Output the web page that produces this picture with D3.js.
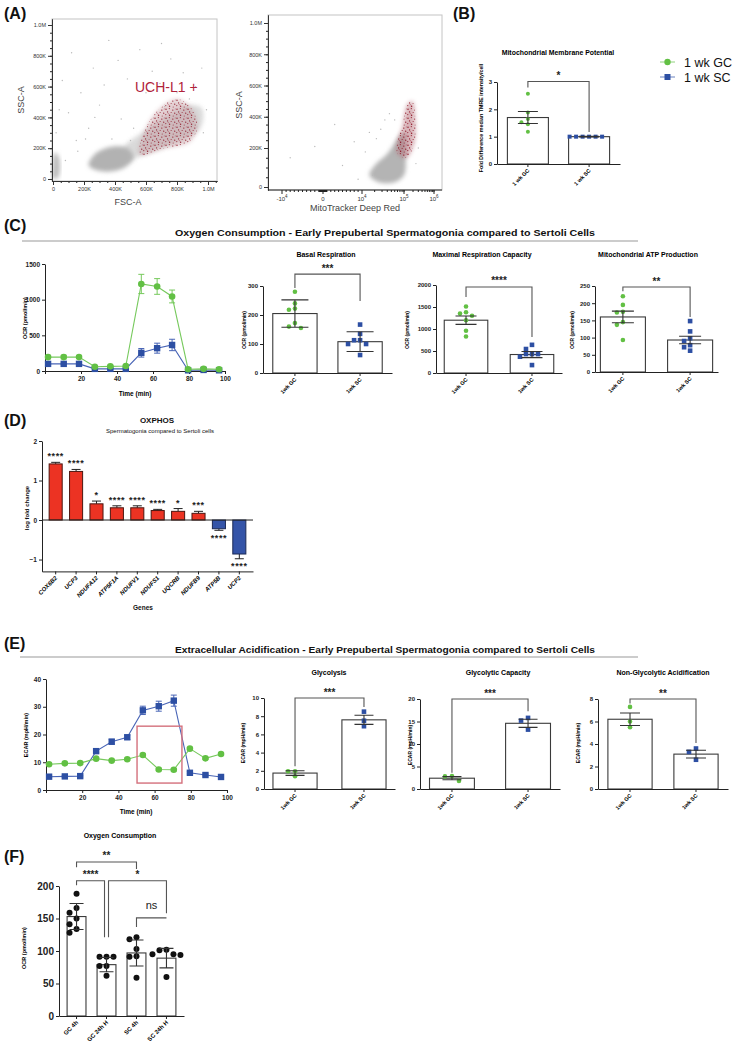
<!DOCTYPE html>
<html>
<head>
<meta charset="utf-8">
<script src="https://cdn.jsdelivr.net/npm/d3@7"></script>
<style>
  body { margin: 0; background: #fff; }
  svg text { font-family: "Liberation Sans", Arial, sans-serif; }
</style>
</head>
<body>
<script>
// ===================== data =====================

// (A) flow cytometry: gated event clouds, outlines in data units
// left plot: FSC-A (K) vs SSC-A (K)
const fscCore = [[230, 90], [290, 55], [380, 50], [470, 80], [520, 140], [480, 200], [380, 210], [280, 170]];
const fscTail = [[450, 120], [620, 170], [800, 240], [950, 330], [960, 460], [880, 480], [720, 400], [560, 290], [460, 210]];
const fscDebris = [[0, 5], [30, 5], [45, 60], [35, 150], [10, 170], [-3, 80]];
const fscUchl1 = [[560, 160], [720, 200], [880, 240], [930, 330], [900, 450], [800, 520], [680, 450], [600, 330]];
const fscSparse = [[20, 300], [60, 640], [100, 430], [150, 250], [180, 560], [230, 330], [260, 720], [300, 480], [330, 610],
  [380, 260], [420, 770], [440, 390], [480, 650], [520, 330], [560, 840], [600, 560], [640, 700], [690, 620], [720, 470],
  [760, 780], [800, 560], [840, 690], [880, 520], [920, 600], [960, 720], [990, 450], [970, 300], [700, 880], [360, 900],
  [120, 820], [40, 450], [80, 120], [500, 250], [620, 260], [900, 350], [160, 180], [210, 260], [270, 400]];
// right plot: MitoTracker Deep Red vs SSC-A (K)
const mitoGray = [[1.5e4, 60], [2.5e4, 25], [6e4, 25], [1e5, 60], [1.15e5, 150], [1.05e5, 300], [8e4, 280], [4e4, 170], [2e4, 110]];
const mitoRed = [[7e4, 170], [1.2e5, 150], [2.2e5, 230], [2.4e5, 380], [1.9e5, 500], [1.3e5, 480], [9e4, 330], [7e4, 240]];
const mitoSparse = [[3e3, 350], [1.5e4, 300], [8e3, 240], [2.2e4, 260], [3.5e4, 380], [-2e3, 210], [5e3, 110], [1.2e4, 180],
  [2.8e4, 320], [6e4, 380], [1.8e4, 60], [9e3, 40], [4.5e4, 420], [3e5, 200], [2.5e5, 120], [-8e3, 150]];

// (B) mitochondrial membrane potential
const mmpGroups = ["1 wk GC", "1 wk SC"];
const mmpMean = [1.7, 1.0];
const mmpErr = [0.22, 0.01];
const mmpPts = [[2.57, 1.88, 1.65, 1.53, 1.45, 1.18], [1, 1, 1, 1, 1, 1]];

// (C) oxygen consumption rate, seahorse time course
const seahorseTime = [1.7, 10.4, 18.9, 27.7, 36.3, 44.9, 53.5, 62.3, 70.6, 79.5, 88.1, 96.7];
const ocrGC = [195, 195, 195, 60, 65, 70, 1220, 1185, 1045, 25, 30, 25];
const ocrGCErr = [25, 25, 20, 15, 15, 15, 135, 110, 90, 15, 15, 15];
const ocrSC = [100, 100, 100, 30, 30, 30, 255, 320, 365, 10, 15, 10];
const ocrSCErr = [10, 10, 10, 5, 5, 5, 60, 70, 80, 5, 5, 5];

const wkGroups = ["1wk GC", "1wk SC"];
const basalMean = [205, 108];
const basalErr = [47, 34];
const basalPts = [[280, 240, 222, 218, 172, 160, 155], [167, 135, 113, 113, 100, 100, 62]];
const maxMean = [1200, 420];
const maxErr = [95, 70];
const maxPts = [[1510, 1380, 1350, 1300, 1200, 960, 830], [640, 545, 430, 430, 430, 370, 180]];
const atpMean = [160, 93];
const atpErr = [17, 11];
const atpPts = [[220, 195, 175, 173, 145, 137, 93], [148, 118, 98, 90, 78, 72, 62]];

// (D) OXPHOS gene expression
const genes = ["COX6B2", "UCP3", "NDUFA12", "ATP5F1A", "NDUFV1", "NDUFS1", "UQCRB", "NDUFB9", "ATP5B", "UCP2"];
const logFC = [1.42, 1.23, 0.41, 0.31, 0.31, 0.24, 0.22, 0.17, -0.22, -0.86];
const logFCErr = [0.04, 0.05, 0.07, 0.05, 0.05, 0.03, 0.07, 0.05, 0.04, 0.12];
const geneSig = ["****", "****", "*", "****", "****", "****", "*", "***", "****", "****"];

// (E) extracellular acidification
const ecarSC = [4.8, 4.9, 5.0, 14.0, 17.4, 19.0, 28.7, 30.2, 32.2, 6.2, 5.4, 4.7];
const ecarSCErr = [0.3, 0.3, 0.3, 0.6, 0.9, 0.8, 1.5, 1.8, 2.0, 0.4, 0.3, 0.3];
const ecarGC = [9.3, 9.6, 9.7, 11.3, 10.6, 11.1, 12.6, 7.4, 7.3, 14.9, 11.4, 13.0];
const ecarGCErr = [0.4, 0.4, 0.4, 0.4, 0.4, 0.4, 0.4, 0.4, 0.4, 0.4, 0.4, 0.4];
const ecarBox = [50.3, 75.1, 2.5, 23]; // highlighted window: t0, t1, y0, y1

const glyMean = [1.75, 7.6];
const glyErr = [0.25, 0.5];
const glyPts = [[1.95, 1.95, 1.4], [8.5, 7.5, 6.9]];
const capMean = [2.4, 14.6];
const capErr = [0.35, 0.9];
const capPts = [[2.9, 2.8, 1.8], [15.8, 15.2, 13.2]];
const nonMean = [6.2, 3.1];
const nonErr = [0.55, 0.35];
const nonPts = [[7.3, 6.0, 5.5], [3.6, 3.3, 2.6]];

// (F) oxygen consumption after 4h / 24h
const fGroups = ["GC 4h", "GC 24h H", "SC 4h", "SC 24h H"];
const fMean = [153, 79, 97, 89];
const fErr = [20, 11, 20, 15];
const fPts = [[188, 166, 159, 150, 141, 134, 128], [91, 91, 91, 77, 77, 62], [121, 118, 103, 92, 91, 59], [102, 101, 95, 95, 94, 60]];

// ===================== drawing =====================
const GREEN = "#62c044", BLUE = "#2d4fa3";
const numFmt = d3.format("~g");
const svg = d3.select("body").append("svg").attr("width", 734).attr("height", 1050);
const defs = svg.append("defs");
defs.append("filter").attr("id", "blur")
  .attr("x", "-20%").attr("y", "-20%").attr("width", "140%").attr("height", "140%")
  .append("feGaussianBlur").attr("stdDeviation", 2.2);
// speckle texture for the gated (red) events
const speck = defs.append("pattern").attr("id", "speck").attr("patternUnits", "userSpaceOnUse")
  .attr("width", 11).attr("height", 9);
[[1, 1.2, 0.7], [4.3, 0.6, 0.55], [7.8, 2.1, 0.7], [2.6, 3.9, 0.6], [6.1, 4.4, 0.5], [9.7, 5.2, 0.65],
 [0.8, 6.6, 0.55], [4.6, 7.3, 0.7], [8.2, 8.1, 0.5], [3.2, 5.8, 0.45], [10.2, 0.9, 0.45]].forEach(d =>
  speck.append("circle").attr("cx", d[0]).attr("cy", d[1]).attr("r", d[2]).attr("fill", "#8e1526"));

function styleAxis(sel, size, bold, col) {
  sel.attr("font-family", null).attr("font-size", null);
  sel.select(".domain").attr("stroke", col || "#222");
  sel.selectAll(".tick line").attr("stroke", col || "#222");
  sel.selectAll(".tick text").attr("fill", col || "#222").attr("font-size", size)
    .attr("font-weight", bold ? "bold" : "normal");
}

function label(x, y, txt, size, weight, anchor, rot) {
  const t = svg.append("text").attr("font-size", size).attr("font-weight", weight || "normal")
    .attr("text-anchor", anchor || "middle").attr("fill", "#111").text(txt);
  if (rot) t.attr("transform", `translate(${x},${y}) rotate(${rot})`);
  else t.attr("x", x).attr("y", y);
  return t;
}

function dodge(vals, cx, y, step, minD) {
  const placed = [];
  return vals.map(v => {
    const py = y(v);
    for (let k = 0; k < 20; k++) {
      const px = cx + (k === 0 ? 0 : (k % 2 ? -1 : 1) * Math.ceil(k / 2) * step);
      if (placed.every(p => Math.hypot(p[0] - px, p[1] - py) >= minD)) {
        placed.push([px, py]);
        return [px, py];
      }
    }
    placed.push([cx, py]);
    return [cx, py];
  });
}

function drawMarks(g, pts, m, r) {
  if (m.shape === "square") {
    g.selectAll(null).data(pts).join("rect")
      .attr("x", p => p[0] - r).attr("y", p => p[1] - r)
      .attr("width", 2 * r).attr("height", 2 * r).attr("fill", m.color);
  } else {
    g.selectAll(null).data(pts).join("circle")
      .attr("cx", p => p[0]).attr("cy", p => p[1]).attr("r", r).attr("fill", m.color);
  }
}

function bracket(g, xa, xb, yTop, ya, yb, lab, fs, ly, weight) {
  g.append("path").attr("d", `M${xa},${ya}V${yTop}H${xb}V${yb}`)
    .attr("fill", "none").attr("stroke", "#555").attr("stroke-width", 1.1);
  g.append("text").attr("x", (xa + xb) / 2).attr("y", ly == null ? yTop - 2.5 : ly)
    .attr("text-anchor", "middle").attr("font-size", fs || 10).attr("font-weight", weight || "bold")
    .attr("fill", "#222").text(lab);
}

const gcMark = {shape: "circle", color: GREEN};
const scMark = {shape: "square", color: BLUE};

function barChart(c, groups, mean, err, pts, marks) {
  const g = svg.append("g");
  const x = d3.scaleBand().domain(groups).range(c.xr).paddingInner(c.pi).paddingOuter(c.po);
  const y = d3.scaleLinear().domain(c.dom).range(c.yr);
  const cx = d => x(d) + x.bandwidth() / 2;

  if (c.title) {
    g.append("text").attr("x", c.title[1]).attr("y", c.title[2]).attr("text-anchor", "middle")
      .attr("font-size", c.ts || 7).attr("font-weight", "bold").text(c.title[0]);
  }
  g.append("text").attr("transform", `translate(${c.ylab[1]},${c.ylab[2]}) rotate(-90)`)
    .attr("text-anchor", "middle").attr("font-size", c.ls || 5).attr("font-weight", "bold").text(c.ylab[0]);

  g.selectAll(".bar").data(groups).join("rect").attr("class", "bar")
    .attr("x", d => x(d)).attr("width", x.bandwidth())
    .attr("y", (d, i) => y(mean[i])).attr("height", (d, i) => y(0) - y(mean[i]))
    .attr("fill", "#fff").attr("stroke", "#3a3a3a").attr("stroke-width", 1.1);

  groups.forEach((grp, i) => {
    drawMarks(g, dodge(pts[i], cx(grp), y, c.step || 6, c.minD || 5), marks[i], c.r || 2.3);
  });

  groups.forEach((grp, i) => {
    const x0 = cx(grp), lo = y(mean[i] - err[i]), hi = y(mean[i] + err[i]), h = c.cap / 2;
    g.append("path").attr("d", `M${x0},${lo}V${hi}M${x0 - h},${hi}h${c.cap}M${x0 - h},${lo}h${c.cap}`)
      .attr("stroke", "#333").attr("stroke-width", 1.1).attr("fill", "none");
  });

  g.append("g").attr("transform", `translate(${c.xr[0]},0)`)
    .call(d3.axisLeft(y).tickValues(c.ticks).tickFormat(numFmt).tickSize(3).tickSizeOuter(0).tickPadding(2))
    .call(styleAxis, c.fs || 6, true);
  g.append("g").attr("transform", `translate(0,${c.yr[0]})`)
    .call(d3.axisBottom(x).tickSize(3).tickSizeOuter(0).tickFormat(""))
    .call(styleAxis, 6, true);
  groups.forEach(grp => {
    g.append("text").attr("transform", `translate(${cx(grp) + 2},${c.yr[0] + 7}) rotate(-45)`)
      .attr("text-anchor", "end").attr("font-size", c.xs || 5.5).attr("font-weight", "bold").text(grp);
  });

  if (c.br) {
    bracket(g, cx(groups[0]), cx(groups[1]), y(c.br.top), y(c.br.a), y(c.br.b), c.br.lab, c.br.fs);
  }
  return {x, y, g, cx};
}

function lineChart(c, t, series) {
  const g = svg.append("g");
  const x = d3.scaleLinear().domain([0, 100]).range(c.xr);
  const y = d3.scaleLinear().domain(c.dom).range(c.yr);
  g.append("g").attr("transform", `translate(${c.xr[0]},0)`)
    .call(d3.axisLeft(y).tickValues(c.ticks).tickFormat(numFmt).tickSize(3).tickSizeOuter(0).tickPadding(2))
    .call(styleAxis, 6.5, true);
  g.append("g").attr("transform", `translate(0,${c.yr[0]})`)
    .call(d3.axisBottom(x).tickValues([0, 20, 40, 60, 80, 100]).tickFormat(v => v ? v : "")
      .tickSize(3).tickSizeOuter(0).tickPadding(2))
    .call(styleAxis, 6.5, true);
  g.append("text").attr("transform", `translate(${c.ylab[1]},${c.ylab[2]}) rotate(-90)`)
    .attr("text-anchor", "middle").attr("font-size", 5.5).attr("font-weight", "bold").text(c.ylab[0]);
  g.append("text").attr("x", c.xlab[1]).attr("y", c.xlab[2]).attr("text-anchor", "middle")
    .attr("font-size", 6.5).attr("font-weight", "bold").text(c.xlab[0]);

  series.forEach(s => {
    g.append("path").datum(t)
      .attr("d", d3.line().x(d => x(d)).y((d, i) => y(s.v[i])))
      .attr("fill", "none").attr("stroke", s.line).attr("stroke-width", 1.1);
    t.forEach((tt, i) => {
      const x0 = x(tt), lo = y(s.v[i] - s.e[i]), hi = y(s.v[i] + s.e[i]);
      g.append("path").attr("d", `M${x0},${lo}V${hi}M${x0 - 3},${hi}h6M${x0 - 3},${lo}h6`)
        .attr("stroke", s.line).attr("stroke-width", 1).attr("fill", "none");
    });
    drawMarks(g, t.map((tt, i) => [x(tt), y(s.v[i])]), s.mark, s.mark.shape === "square" ? 3.2 : 3.3);
  });
  return {x, y, g};
}

// ---------- panel labels ----------
[["(A)", 4, 19], ["(B)", 453, 19], ["(C)", 4, 231], ["(D)", 4, 426], ["(E)", 4, 649], ["(F)", 4, 862]]
  .forEach(p => label(p[1], p[2], p[0], 16, "bold", "start"));

const fmtK = v => v === 0 ? "0" : v >= 1000 ? "1.0M" : v + "K";

// ---------- (A) left: FSC vs SSC ----------
{
  const x = d3.scaleLinear().domain([-6.5, 1058]).range([52, 217]);
  const y = d3.scaleLinear().domain([-13, 1039]).range([181, 19]);
  const g = svg.append("g");
  g.append("rect").attr("x", 52).attr("y", 19).attr("width", 165).attr("height", 162)
    .attr("fill", "none").attr("stroke", "#c4c4c4");
  const cloud = d3.line().x(d => x(d[0])).y(d => y(d[1])).curve(d3.curveCatmullRomClosed);
  g.append("path").attr("d", cloud(fscTail)).attr("fill", "#cdcdcd").attr("opacity", 0.75).attr("filter", "url(#blur)");
  g.append("path").attr("d", cloud(fscCore)).attr("fill", "#b2b2b2").attr("filter", "url(#blur)");
  g.append("path").attr("d", cloud(fscDebris)).attr("fill", "#bdbdbd").attr("filter", "url(#blur)");
  g.append("path").attr("d", cloud(fscUchl1)).attr("fill", "#c1949a").attr("opacity", 0.45).attr("filter", "url(#blur)");
  g.append("path").attr("d", cloud(fscUchl1)).attr("fill", "url(#speck)").attr("opacity", 0.9);
  g.selectAll(null).data(fscSparse).join("circle").attr("cx", d => x(d[0])).attr("cy", d => y(d[1]))
    .attr("r", 0.7).attr("fill", "#bbb");

  g.append("g").attr("transform", "translate(52,0)")
    .call(d3.axisLeft(y).tickValues(d3.range(0, 1040, 50)).tickSize(2).tickFormat("").tickSizeOuter(0))
    .call(styleAxis, 5.5, false);
  g.append("g").attr("transform", "translate(52,0)")
    .call(d3.axisLeft(y).tickValues(d3.range(0, 1001, 200)).tickSize(4).tickFormat(fmtK).tickSizeOuter(0).tickPadding(2))
    .call(styleAxis, 5.5, false, "#333");
  g.append("g").attr("transform", "translate(0,181)")
    .call(d3.axisBottom(x).tickValues(d3.range(0, 1060, 50)).tickSize(2).tickFormat("").tickSizeOuter(0))
    .call(styleAxis, 5.5, false);
  g.append("g").attr("transform", "translate(0,181)")
    .call(d3.axisBottom(x).tickValues(d3.range(0, 1001, 200)).tickSize(4).tickFormat(fmtK).tickSizeOuter(0).tickPadding(2))
    .call(styleAxis, 5.5, false, "#333");
  label(24, 100, "SSC-A", 9, "normal", "middle", -90).attr("fill", "#444");
  label(128, 205, "FSC-A", 9, "normal", "middle").attr("fill", "#444");
  label(135, 92, "UCH-L1 +", 14, "normal", "start").attr("fill", "#b0233a");
}

// ---------- (A) right: MitoTracker vs SSC ----------
{
  const biex = v => Math.abs(v) <= 1e4 ? v / 1e4 : Math.sign(v) * (1 + Math.log10(Math.abs(v) / 1e4));
  const u = d3.scaleLinear().domain([-1.34, -1, 0, 1, 2, 3, 3.27]).range([268, 282, 323, 362, 404, 434, 442]);
  const x = v => u(biex(v));
  const y = d3.scaleLinear().domain([-15, 0, 200, 1000, 1050]).range([190, 187, 148, 23, 15]);
  const g = svg.append("g");
  g.append("rect").attr("x", 268).attr("y", 15).attr("width", 174).attr("height", 175)
    .attr("fill", "none").attr("stroke", "#c4c4c4");
  const cloud = d3.line().x(d => x(d[0])).y(d => y(d[1])).curve(d3.curveCatmullRomClosed);
  g.append("path").attr("d", cloud(mitoGray)).attr("fill", "#b4b4b4").attr("filter", "url(#blur)");
  g.append("path").attr("d", cloud(mitoRed)).attr("fill", "#b36a74").attr("opacity", 0.5).attr("filter", "url(#blur)");
  g.append("path").attr("d", cloud(mitoRed)).attr("fill", "url(#speck)");
  g.selectAll(null).data(mitoSparse).join("circle").attr("cx", d => x(d[0])).attr("cy", d => y(d[1]))
    .attr("r", 0.7).attr("fill", "#bbb");

  g.append("g").attr("transform", "translate(268,0)")
    .call(d3.axisLeft(y).tickValues(d3.range(0, 1040, 50)).tickSize(2).tickFormat("").tickSizeOuter(0))
    .call(styleAxis, 5.5, false);
  g.append("g").attr("transform", "translate(268,0)")
    .call(d3.axisLeft(y).tickValues(d3.range(0, 1001, 200)).tickSize(4).tickFormat(fmtK).tickSizeOuter(0).tickPadding(2))
    .call(styleAxis, 5.5, false, "#333");

  // biexponential x axis, ticks drawn by hand
  const minor = [];
  for (let k = 1; k <= 9; k++) {
    minor.push(-k * 1e3, k * 1e3, -k * 100, k * 100, (k + 1) * 1e4, (k + 1) * 1e5);
  }
  g.append("line").attr("x1", 268).attr("x2", 442).attr("y1", 190).attr("y2", 190).attr("stroke", "#222");
  g.selectAll(null).data(minor.filter(v => x(v) <= 442)).join("line")
    .attr("x1", d => x(d)).attr("x2", d => x(d)).attr("y1", 190).attr("y2", 192).attr("stroke", "#222");
  const major = [[-1e4, "-10", "4"], [0, "0", ""], [1e4, "10", "4"], [1e5, "10", "5"], [1e6, "10", "6"]];
  major.forEach(m => {
    g.append("line").attr("x1", x(m[0])).attr("x2", x(m[0])).attr("y1", 190).attr("y2", 194).attr("stroke", "#222");
    const t = g.append("text").attr("x", x(m[0])).attr("y", 201).attr("text-anchor", "middle")
      .attr("font-size", 6).attr("fill", "#333").text(m[1]);
    if (m[2]) t.append("tspan").attr("dy", -3).attr("font-size", 4.5).text(m[2]);
  });
  label(242, 105, "SSC-A", 9, "normal", "middle", -90).attr("fill", "#444");
  label(355, 211, "MitoTracker Deep Red", 9, "normal", "middle").attr("fill", "#444");
}

// ---------- (B) ----------
barChart({
  xr: [497, 620], pi: 0.33, po: 0.17, yr: [164, 82], dom: [0, 3], ticks: [0, 1, 2, 3],
  title: ["Mitochondrial Membrane Potential", 558, 55], ts: 6.9,
  ylab: ["Fold Difference median TMRE intensity/cell", 483, 118], ls: 5.3,
  cap: 20, r: 2, step: 6.5, minD: 4.5, xs: 5.5,
  br: {top: 3.02, a: 2.8, b: 1.17, lab: "*", fs: 10}
}, mmpGroups, mmpMean, mmpErr, mmpPts, [gcMark, scMark]);

// legend
{
  const lg = svg.append("g");
  [[gcMark, "1 wk GC", 62], [scMark, "1 wk SC", 77]].forEach(([m, txt, yy]) => {
    lg.append("line").attr("x1", 660).attr("x2", 675).attr("y1", yy).attr("y2", yy)
      .attr("stroke", m.color).attr("stroke-width", 1).attr("opacity", 0.7);
    drawMarks(lg, [[667.5, yy]], m, m.shape === "square" ? 3 : 3.2);
    lg.append("text").attr("x", 684).attr("y", yy + 4.5).attr("font-size", 12.5).attr("fill", "#111").text(txt);
  });
}

// ---------- (C) ----------
label(385, 236, "Oxygen Consumption - Early Prepubertal Spermatogonia compared to Sertoli Cells", 9.5, "bold")
  .attr("textLength", 420).attr("lengthAdjust", "spacingAndGlyphs");
svg.append("line").attr("x1", 22).attr("x2", 638).attr("y1", 241).attr("y2", 241).attr("stroke", "#999");

lineChart({
  xr: [45, 225], yr: [371, 264], dom: [0, 1500], ticks: [0, 500, 1000, 1500],
  ylab: ["OCR (pmol/min)", 27, 318], xlab: ["Time (min)", 135, 396]
}, seahorseTime, [
  {v: ocrSC, e: ocrSCErr, line: "#4864b6", mark: scMark},
  {v: ocrGC, e: ocrGCErr, line: "#76c95c", mark: gcMark}
]);

barChart({
  xr: [263, 392], pi: 0.32, po: 0.15, yr: [373, 286], dom: [0, 300], ticks: [0, 100, 200, 300],
  title: ["Basal Respiration", 326, 257], ylab: ["OCR (pmol/min)", 246, 330], cap: 27,
  br: {top: 341, a: 293, b: 248, lab: "***"}
}, wkGroups, basalMean, basalErr, basalPts, [gcMark, scMark]);

barChart({
  xr: [436, 562], pi: 0.34, po: 0.125, yr: [373, 285], dom: [0, 2000], ticks: [0, 500, 1000, 1500, 2000],
  title: ["Maximal Respiration Capacity", 482, 257], ylab: ["OCR (pmol/min)", 409, 330], cap: 21,
  br: {top: 1955, a: 1727, b: 818, lab: "****"}
}, wkGroups, maxMean, maxErr, maxPts, [gcMark, scMark]);

barChart({
  xr: [595, 718], pi: 0.33, po: 0.08, yr: [372, 286], dom: [0, 250], ticks: [0, 50, 100, 150, 200, 250],
  title: ["Mitochondrial ATP Production", 648, 257], ylab: ["OCR (pmol/min)", 574, 330], cap: 22,
  br: {top: 247, a: 235, b: 160, lab: "**"}
}, wkGroups, atpMean, atpErr, atpPts, [gcMark, scMark]);

// ---------- (D) ----------
{
  const g = svg.append("g");
  const x = d3.scaleBand().domain(genes).range([42, 253]).paddingInner(0.36).paddingOuter(0.35);
  const y = d3.scaleLinear().domain([-1.3, 2]).range([571.4, 441]);
  const cx = d => x(d) + x.bandwidth() / 2;
  label(157, 423, "OXPHOS", 8, "bold");
  label(160, 433, "Spermatogonia compared to Sertoli cells", 6, "normal");

  genes.forEach((gene, i) => {
    const v = logFC[i], e = logFCErr[i], x0 = cx(gene), tip = y(v + Math.sign(v) * e), cap = 4.5;
    g.append("path").attr("d", `M${x0},${y(v)}V${tip}M${x0 - cap},${tip}h${2 * cap}`)
      .attr("stroke", "#222").attr("stroke-width", 1).attr("fill", "none");
    g.append("rect").attr("x", x(gene)).attr("width", x.bandwidth())
      .attr("y", Math.min(y(v), y(0))).attr("height", Math.abs(y(v) - y(0)))
      .attr("fill", v > 0 ? "#ec3323" : "#3454a8").attr("stroke", v > 0 ? "#4a1610" : "#1c2a55").attr("stroke-width", 1);
    g.append("text").attr("x", x0).attr("y", v > 0 ? tip - 3 : tip + 10.5).attr("text-anchor", "middle")
      .attr("font-size", 9).attr("font-weight", "bold").attr("letter-spacing", 0.6).attr("fill", "#222").text(geneSig[i]);
  });
  g.append("line").attr("x1", 42).attr("x2", 253).attr("y1", y(0)).attr("y2", y(0)).attr("stroke", "#222");
  g.append("g").attr("transform", "translate(42,0)")
    .call(d3.axisLeft(y).tickValues([-1, 0, 1, 2]).tickFormat(numFmt).tickSize(3).tickSizeOuter(0).tickPadding(2))
    .call(styleAxis, 6.5, true);
  g.append("g").attr("transform", `translate(0,${y(-1.3)})`)
    .call(d3.axisBottom(x).tickSize(3).tickSizeOuter(0).tickFormat(""))
    .call(styleAxis, 6, true);
  genes.forEach(gene => {
    g.append("text").attr("transform", `translate(${cx(gene) + 2},${y(-1.3) + 7}) rotate(-45)`)
      .attr("text-anchor", "end").attr("font-size", 6).attr("font-weight", "bold").attr("font-style", "italic").text(gene);
  });
  label(29, 508, "log fold change", 6, "bold", "middle", -90);
  label(143, 610, "Genes", 6.5, "bold");
}

// ---------- (E) ----------
label(385, 653, "Extracellular Acidification - Early Prepubertal Spermatogonia compared to Sertoli Cells", 9, "bold")
  .attr("textLength", 420).attr("lengthAdjust", "spacingAndGlyphs");
svg.append("line").attr("x1", 20).attr("x2", 638).attr("y1", 657).attr("y2", 657).attr("stroke", "#999");

{
  const lc = lineChart({
    xr: [46, 227], yr: [790, 679], dom: [0, 40], ticks: [0, 10, 20, 30, 40],
    ylab: ["ECAR (mpH/min)", 28, 735], xlab: ["Time (min)", 136, 814]
  }, seahorseTime, [
    {v: ecarSC, e: ecarSCErr, line: "#4864b6", mark: scMark},
    {v: ecarGC, e: ecarGCErr, line: "#76c95c", mark: gcMark}
  ]);
  lc.g.append("rect").attr("x", lc.x(ecarBox[0])).attr("y", lc.y(ecarBox[3]))
    .attr("width", lc.x(ecarBox[1]) - lc.x(ecarBox[0])).attr("height", lc.y(ecarBox[2]) - lc.y(ecarBox[3]))
    .attr("fill", "none").attr("stroke", "#d4707c").attr("stroke-width", 1.4);
}

barChart({
  xr: [264, 395], pi: 0.36, po: 0.13, yr: [789, 698], dom: [0, 10], ticks: [0, 2, 4, 6, 8, 10],
  title: ["Glycolysis", 329, 675], ylab: ["ECAR (mpH/min)", 245, 743], cap: 19, step: 7,
  br: {top: 10, a: 2.5, b: 9.0, lab: "***"}
}, wkGroups, glyMean, glyErr, glyPts, [gcMark, scMark]);

barChart({
  xr: [420, 560], pi: 0.41, po: 0.125, yr: [789, 699], dom: [0, 20], ticks: [0, 5, 10, 15, 20],
  title: ["Glycolytic Capacity", 498, 675], ylab: ["ECAR (mpH/min)", 412, 745], cap: 19, step: 7,
  br: {top: 20, a: 3.6, b: 17.3, lab: "***"}
}, wkGroups, capMean, capErr, capPts, [gcMark, scMark]);

barChart({
  xr: [598, 728], pi: 0.33, po: 0.15, yr: [789, 699], dom: [0, 8], ticks: [0, 2, 4, 6, 8],
  title: ["Non-Glycolytic Acidification", 663, 675], ylab: ["ECAR (mpH/min)", 580, 743], cap: 20, step: 7,
  br: {top: 8, a: 7.6, b: 4.1, lab: "**"}
}, wkGroups, nonMean, nonErr, nonPts, [gcMark, scMark]);

// ---------- (F) ----------
{
  const blk = {shape: "circle", color: "#111"};
  const f = barChart({
    xr: [59, 184], pi: 0.37, po: 0.27, yr: [1016, 886], dom: [0, 200], ticks: [0, 50, 100, 150, 200],
    title: ["Oxygen Consumption", 120, 838], ylab: ["OCR (pmol/min)", 26, 948], ls: 5.5,
    cap: 14, r: 3, step: 7, minD: 6, fs: 10, xs: 6
  }, fGroups, fMean, fErr, fPts, [blk, blk, blk, blk]);
  const c = fGroups.map(f.cx), y = f.y;
  bracket(f.g, c[0], c[2], y(237), y(229), y(226), "**", 10);
  bracket(f.g, c[0], c[1] - 2, y(208), y(201), y(121), "****", 10);
  bracket(f.g, c[1] + 2, c[3], y(208), y(121), y(158), "*", 10);
  bracket(f.g, c[2], c[3], y(151), y(137), y(151), "ns", 11, y(151) - 9, "normal");
}
</script>
</body>
</html>
